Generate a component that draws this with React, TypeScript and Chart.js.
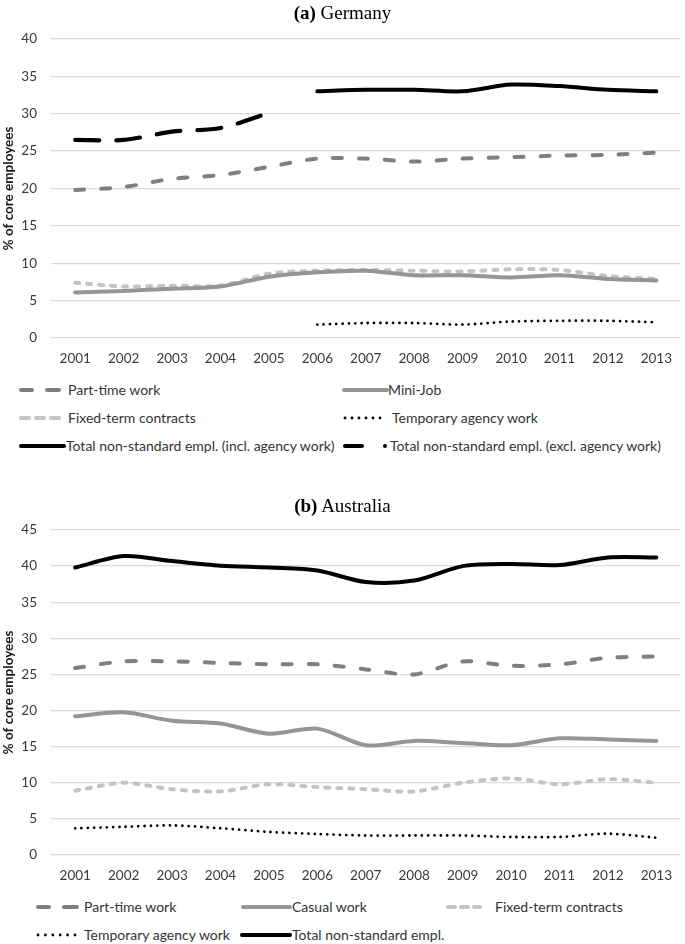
import React, { useEffect, useRef } from "react";
import { Chart, registerables } from "chart.js";

Chart.register(...registerables);

// ---------- data ----------
const years = ["2001", "2002", "2003", "2004", "2005", "2006", "2007", "2008", "2009", "2010", "2011", "2012", "2013"];

// (a) Germany
const dePartTime = [19.8, 20.2, 21.3, 21.8, 22.9, 24.0, 24.0, 23.6, 24.0, 24.2, 24.4, 24.5, 24.8];
const deMiniJob = [6.1, 6.3, 6.6, 6.9, 8.2, 8.8, 9.0, 8.4, 8.4, 8.1, 8.4, 7.9, 7.7];
const deFixedTerm = [7.4, 6.9, 7.0, 7.0, 8.6, 9.0, 9.1, 9.0, 8.9, 9.2, 9.1, 8.3, 7.9];
const deAgency = [null, null, null, null, null, 1.8, 2.0, 2.0, 1.8, 2.2, 2.3, 2.3, 2.1];
const deTotalIncl = [null, null, null, null, null, 33.0, 33.2, 33.2, 33.0, 33.9, 33.7, 33.2, 33.0];
const deTotalExcl = [26.5, 26.5, 27.6, 28.1, 30.1, null, null, null, null, null, null, null, null];
const deYMax = 40;

// (b) Australia
const auPartTime = [25.9, 26.8, 26.8, 26.6, 26.4, 26.4, 25.7, 25.0, 26.8, 26.2, 26.4, 27.3, 27.5];
const auCasual = [19.2, 19.75, 18.6, 18.2, 16.8, 17.5, 15.2, 15.8, 15.5, 15.2, 16.15, 16.0, 15.8];
const auFixedTerm = [8.9, 10.0, 9.1, 8.8, 9.8, 9.4, 9.1, 8.8, 10.0, 10.6, 9.8, 10.5, 10.0];
const auAgency = [3.7, 3.9, 4.1, 3.7, 3.2, 2.9, 2.7, 2.7, 2.7, 2.5, 2.5, 2.95, 2.4];
const auTotal = [39.8, 41.4, 40.7, 40.06, 39.8, 39.4, 37.8, 38.0, 40.0, 40.3, 40.15, 41.2, 41.2];
const auYMax = 45;

const yTickStep = 5;
const yAxisTitle = "% of core employees";

// ---------- styles ----------
const C_PART = "#7f7f7f";
const C_MINI = "#959595";
const C_FIXED = "#c3c3c3";
const C_BLACK = "#000000";
const GRID = "#d9d9d9";
const TXT = "#3a3a3a";
const SANS = "Lato, 'Open Sans', sans-serif";

type Style = "part" | "mini" | "fixed" | "agency" | "total" | "excl";

function dsStyle(style: Style) {
  const base: any = {
    pointRadius: 0,
    pointHoverRadius: 0,
    tension: 0.3,
    borderWidth: 4,
    borderCapStyle: "round",
    borderJoinStyle: "round",
    spanGaps: false,
    fill: false,
  };
  switch (style) {
    case "part":
      return { ...base, borderColor: C_PART, borderDash: [9, 17] };
    case "mini":
      return { ...base, borderColor: C_MINI };
    case "fixed":
      return { ...base, borderColor: C_FIXED, borderDash: [4, 8] };
    case "agency":
      return { ...base, borderColor: C_BLACK, borderWidth: 2.8, borderDash: [0.01, 6.3] };
    case "total":
      return { ...base, borderColor: C_BLACK, borderWidth: 4 };
    case "excl":
      return { ...base, borderColor: C_BLACK, borderWidth: 4.2, borderDash: [24, 17] };
  }
}

interface PanelProps {
  top: number;
  padTop: number;
  plotBottom: number;
  yMax: number;
  series: { label: string; data: (number | null)[]; style: Style }[];
}

function Panel({ top, padTop, plotBottom, yMax, series }: PanelProps) {
  const ref = useRef<HTMLCanvasElement | null>(null);
  const xAxisH = 30;
  const height = plotBottom + xAxisH;
  useEffect(() => {
    if (!ref.current) return;
    const chart = new Chart(ref.current, {
      type: "line",
      data: {
        labels: years,
        datasets: series.map((s) => ({ label: s.label, data: s.data, ...dsStyle(s.style) })),
      },
      options: {
        animation: false,
        responsive: false,
        layout: { padding: { top: padTop, left: 0, right: 0, bottom: 0 } },
        plugins: { legend: { display: false }, tooltip: { enabled: false }, title: { display: false } },
        scales: {
          x: {
            offset: true,
            grid: { display: false, drawTicks: false },
            border: { display: false },
            ticks: { color: TXT, font: { family: SANS, size: 13.5 }, padding: 13, maxRotation: 0, autoSkip: false },
            afterFit: (s: any) => {
              s.height = xAxisH;
            },
          },
          y: {
            min: 0,
            max: yMax,
            grid: { color: GRID, lineWidth: 1.3, drawTicks: false },
            border: { display: false },
            ticks: { stepSize: yTickStep, color: TXT, font: { family: SANS, size: 13.5 }, padding: 14 },
            title: {
              display: true,
              text: yAxisTitle,
              color: "#1a1a1a",
              font: { family: SANS, size: 13.5, weight: "bold" },
              padding: { top: 1, bottom: 0 },
            },
            afterFit: (s: any) => {
              s.width = 51;
            },
          },
        },
      } as any,
    });
    return () => chart.destroy();
  }, []);
  return (
    <canvas
      ref={ref}
      width={685}
      height={height}
      style={{ position: "absolute", left: 0, top, width: 685, height }}
    />
  );
}

// ---------- legend ----------
type Mark = { kind: "seg"; x1: number; x2: number; color: string; w: number } | { kind: "dot"; cx: number; r: number; color: string };

function LegendItem({ y, marks, textX, label }: { y: number; marks: Mark[]; textX: number; label: string }) {
  return (
    <>
      <svg style={{ position: "absolute", left: 0, top: y - 6, overflow: "visible" }} width={685} height={12}>
        {marks.map((m, i) =>
          m.kind === "seg" ? (
            <line key={i} x1={m.x1} x2={m.x2} y1={6} y2={6} stroke={m.color} strokeWidth={m.w} strokeLinecap="round" />
          ) : (
            <circle key={i} cx={m.cx} cy={6} r={m.r} fill={m.color} />
          )
        )}
      </svg>
      <div
        style={{
          position: "absolute",
          left: textX,
          top: y - 9,
          height: 18,
          lineHeight: "18px",
          fontFamily: SANS,
          fontSize: 14,
          color: "#333",
          whiteSpace: "nowrap",
        }}
      >
        {label}
      </div>
    </>
  );
}

const seg = (x1: number, x2: number, color: string, w = 4): Mark => ({ kind: "seg", x1, x2, color, w });
const dots = (x0: number, n: number, step: number, r = 1.4): Mark[] =>
  Array.from({ length: n }, (_, i) => ({ kind: "dot", cx: x0 + i * step, r, color: C_BLACK }) as Mark);

function Title({ top, bold, rest }: { top: number; bold: string; rest: string }) {
  return (
    <div
      style={{
        position: "absolute",
        left: 0,
        top,
        width: 685,
        textAlign: "center",
        fontFamily: "'Liberation Serif', 'Times New Roman', serif",
        fontSize: 19,
        lineHeight: "20px",
        color: "#000",
      }}
    >
      <b>{bold}</b> {rest}
    </div>
  );
}

export default function App() {
  return (
    <div style={{ position: "absolute", left: 0, top: 0, width: 685, height: 944, background: "#fff", overflow: "hidden" }}>
      <Panel
        top={0}
        padTop={39}
        plotBottom={338}
        yMax={deYMax}
        series={[
          { label: "Part-time work", data: dePartTime, style: "part" },
          { label: "Mini-Job", data: deMiniJob, style: "mini" },
          { label: "Fixed-term contracts", data: deFixedTerm, style: "fixed" },
          { label: "Temporary agency work", data: deAgency, style: "agency" },
          { label: "Total non-standard empl. (incl. agency work)", data: deTotalIncl, style: "total" },
          { label: "Total non-standard empl. (excl. agency work)", data: deTotalExcl, style: "excl" },
        ]}
      />
      <Title top={3} bold="(a)" rest="Germany" />
      <LegendItem y={390} marks={[seg(21, 32, C_PART), seg(47, 59, C_PART)]} textX={68} label="Part-time work" />
      <LegendItem y={390} marks={[seg(344, 387, C_MINI)]} textX={388} label="Mini-Job" />
      <LegendItem y={418} marks={[seg(21, 29, C_FIXED), seg(36, 44, C_FIXED), seg(51, 59, C_FIXED)]} textX={68} label="Fixed-term contracts" />
      <LegendItem y={418} marks={dots(345, 6, 7.0)} textX={392} label="Temporary agency work" />
      <LegendItem y={446} marks={[seg(21, 64, C_BLACK)]} textX={66} label="Total non-standard empl. (incl. agency work)" />
      <LegendItem y={446} marks={[seg(345, 362, C_BLACK), { kind: "dot", cx: 385, r: 2, color: C_BLACK }]} textX={390} label="Total non-standard empl. (excl. agency work)" />

      <Panel
        top={491}
        padTop={39}
        plotBottom={364}
        yMax={auYMax}
        series={[
          { label: "Part-time work", data: auPartTime, style: "part" },
          { label: "Casual work", data: auCasual, style: "mini" },
          { label: "Fixed-term contracts", data: auFixedTerm, style: "fixed" },
          { label: "Temporary agency work", data: auAgency, style: "agency" },
          { label: "Total non-standard empl.", data: auTotal, style: "total" },
        ]}
      />
      <Title top={496} bold="(b)" rest="Australia" />
      <LegendItem y={907} marks={[seg(38, 49, C_PART), seg(64, 77, C_PART)]} textX={84} label="Part-time work" />
      <LegendItem y={907} marks={[seg(243, 290, C_MINI)]} textX={292} label="Casual work" />
      <LegendItem y={907} marks={[seg(448, 455, C_FIXED), seg(461, 468, C_FIXED), seg(474, 480, C_FIXED)]} textX={495} label="Fixed-term contracts" />
      <LegendItem y={935} marks={dots(38, 6, 7.4)} textX={84} label="Temporary agency work" />
      <LegendItem y={935} marks={[seg(242, 290, C_BLACK)]} textX={292} label="Total non-standard empl." />
    </div>
  );
}
